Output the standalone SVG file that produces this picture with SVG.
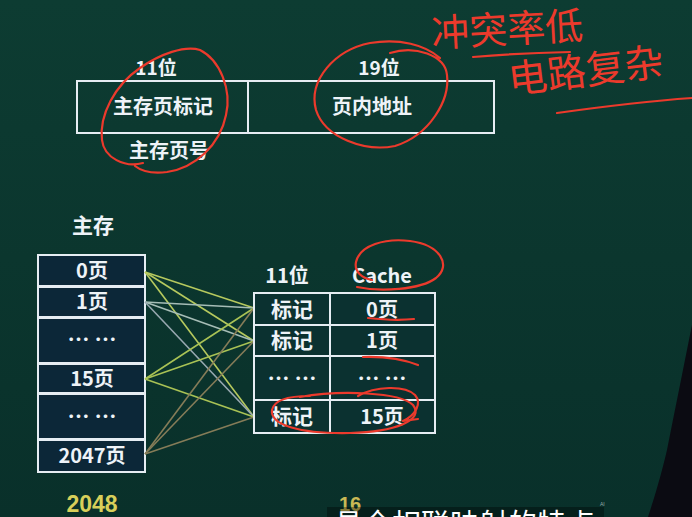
<svg xmlns="http://www.w3.org/2000/svg" width="692" height="517" viewBox="0 0 692 517">
<defs>
<linearGradient id="bg" x1="0" y1="0" x2="0" y2="1">
<stop offset="0" stop-color="#0d3c32"/>
<stop offset="1" stop-color="#09302a"/>
</linearGradient>
<style>
.t{font-family:"Noto Sans CJK SC","Liberation Sans",sans-serif;font-weight:bold;fill:#eef3f8;text-anchor:middle}
.box{fill:none;stroke:#e6edf3;stroke-width:2}
.cell{fill:#0c2738;stroke:#e6edf3;stroke-width:2}
.ccell{fill:#0b3130;stroke:#e6edf3;stroke-width:2}
.red{fill:none;stroke:#ec3a2c;stroke-width:2.2;stroke-linecap:round;stroke-linejoin:round}
.hw{font-family:"Noto Sans CJK SC",sans-serif;fill:#ec3a2c;font-weight:normal}
.y{font-family:"Liberation Sans",sans-serif;font-weight:bold;text-anchor:middle}
.ln{stroke-width:1.6;fill:none}
</style>
</defs>
<rect width="692" height="517" fill="url(#bg)"/>

<g id="address-format">
<rect class="box" x="77" y="81" width="417" height="52"/>
<line class="box" x1="248" y1="81" x2="248" y2="133"/>
<text class="t" x="156" y="75" font-size="19">11位</text>
<text class="t" x="379" y="75" font-size="19">19位</text>
<text class="t" x="163" y="114" font-size="20">主存页标记</text>
<text class="t" x="372" y="114" font-size="20">页内地址</text>
<text class="t" x="169" y="158" font-size="20">主存页号</text>
</g>

<g id="main-memory">
<text class="t" x="93" y="233" font-size="21">主存</text>
<rect class="cell" x="38" y="255" width="107" height="31"/>
<rect class="cell" x="38" y="287" width="107" height="30"/>
<rect class="cell" x="38" y="318" width="107" height="45"/>
<rect class="cell" x="38" y="364" width="107" height="29"/>
<rect class="cell" x="38" y="394" width="107" height="45"/>
<rect class="cell" x="38" y="440" width="107" height="32"/>
<text class="t" x="92" y="278" font-size="20">0页</text>
<text class="t" x="92" y="309" font-size="20">1页</text>
<text class="t" x="92" y="347" font-size="22">… …</text>
<text class="t" x="92" y="386" font-size="20">15页</text>
<text class="t" x="92" y="424" font-size="22">… …</text>
<text class="t" x="92" y="463" font-size="20">2047页</text>
</g>

<g id="connectors">
<line class="ln" stroke="#b6c95e" x1="145" y1="272" x2="254" y2="308"/>
<line class="ln" stroke="#b6c95e" x1="145" y1="272" x2="254" y2="341"/>
<line class="ln" stroke="#b6c95e" x1="145" y1="272" x2="254" y2="417"/>
<line class="ln" stroke="#a6bdb6" x1="145" y1="302" x2="254" y2="308"/>
<line class="ln" stroke="#a6bdb6" x1="145" y1="302" x2="254" y2="341"/>
<line class="ln" stroke="#98a8b0" x1="145" y1="302" x2="254" y2="417"/>
<line class="ln" stroke="#a9c255" x1="145" y1="379" x2="254" y2="308"/>
<line class="ln" stroke="#a9c255" x1="145" y1="379" x2="254" y2="341"/>
<line class="ln" stroke="#a9c255" x1="145" y1="379" x2="254" y2="417"/>
<line class="ln" stroke="#857c58" x1="145" y1="454" x2="254" y2="308"/>
<line class="ln" stroke="#857c58" x1="145" y1="454" x2="254" y2="341"/>
<line class="ln" stroke="#857c58" x1="145" y1="454" x2="254" y2="417"/>
</g>

<g id="cache">
<text class="t" x="287" y="283" font-size="20">11位</text>
<text class="t" x="382" y="283" font-size="20">Cache</text>
<rect class="ccell" x="254" y="293" width="181" height="32"/>
<rect class="ccell" x="254" y="325" width="181" height="31"/>
<rect class="ccell" x="254" y="356" width="181" height="44"/>
<rect class="ccell" x="254" y="400" width="181" height="33"/>
<line class="box" x1="330" y1="293" x2="330" y2="433"/>
<text class="t" x="292" y="317" font-size="21">标记</text>
<text class="t" x="382" y="317" font-size="20">0页</text>
<text class="t" x="292" y="348" font-size="21">标记</text>
<text class="t" x="382" y="348" font-size="20">1页</text>
<text class="t" x="292" y="386" font-size="22">… …</text>
<text class="t" x="382" y="386" font-size="22">… …</text>
<text class="t" x="292" y="424" font-size="21">标记</text>
<text class="t" x="382" y="424" font-size="20">15页</text>
</g>

<g id="counts">
<text class="y" x="92" y="512" font-size="23" fill="#d8cf5a">2048</text>
<text class="y" x="350" y="511" font-size="20" fill="#c9b955">16</text>
</g>

<g id="annotations">
<path class="red" d="M 143 163 C 125 168, 104 158, 102 140 C 99 115, 115 85, 140 68 C 160 54, 185 45, 200 50 C 220 60, 232 90, 226 115 C 220 145, 195 168, 167 172 C 150 174, 140 170, 135 166"/>
<path class="red" d="M 390 53 C 415 45, 445 55, 447 75 C 450 100, 430 135, 395 146 C 365 152, 325 138, 316 110 C 308 80, 335 50, 370 43 C 400 38, 425 45, 440 58"/>
<path class="red" d="M 357 287 C 380 292, 420 290, 436 278 C 452 265, 440 245, 410 241 C 385 238, 360 245, 356 262 C 354 272, 362 278, 372 280"/>
<path class="red" d="M 368 318 Q 395 321 414 319"/>
<path class="red" d="M 363 357 Q 395 356 418 365"/>
<path class="red" d="M 358 396 C 375 386, 405 385, 415 395 C 422 403, 416 415, 403 421 L 418 419"/>
<path class="red" d="M 300 397 C 340 390, 400 392, 413 405 C 425 420, 395 432, 350 433 C 300 434, 270 425, 272 410 C 274 400, 290 396, 310 396"/>
<text class="hw" x="432" y="47" font-size="38" transform="rotate(-3 432 47)">冲突率低</text>
<path class="red" d="M 473 57 Q 520 53 570 52"/>
<text class="hw" x="510" y="94" font-size="39" transform="rotate(-7 510 94)">电路复杂</text>
<path class="red" d="M 557 113 C 600 107, 650 101, 692 98"/>
</g>

<path id="silhouette" d="M 692 325 C 685 360, 677 400, 667 450 C 660 480, 652 505, 648 517 L 692 517 Z" fill="#0b0b12"/>

<g id="subtitle">
<rect x="327" y="507" width="277" height="12" fill="#000" fill-opacity="0.35"/>
<text x="334" y="535" font-size="29" font-family="Noto Sans CJK SC, sans-serif" fill="#ffffff">具全相联映射的特点</text>
<text x="600" y="506" font-size="5" font-family="Liberation Sans, sans-serif" fill="#9aa">AI</text>
</g>
</svg>
